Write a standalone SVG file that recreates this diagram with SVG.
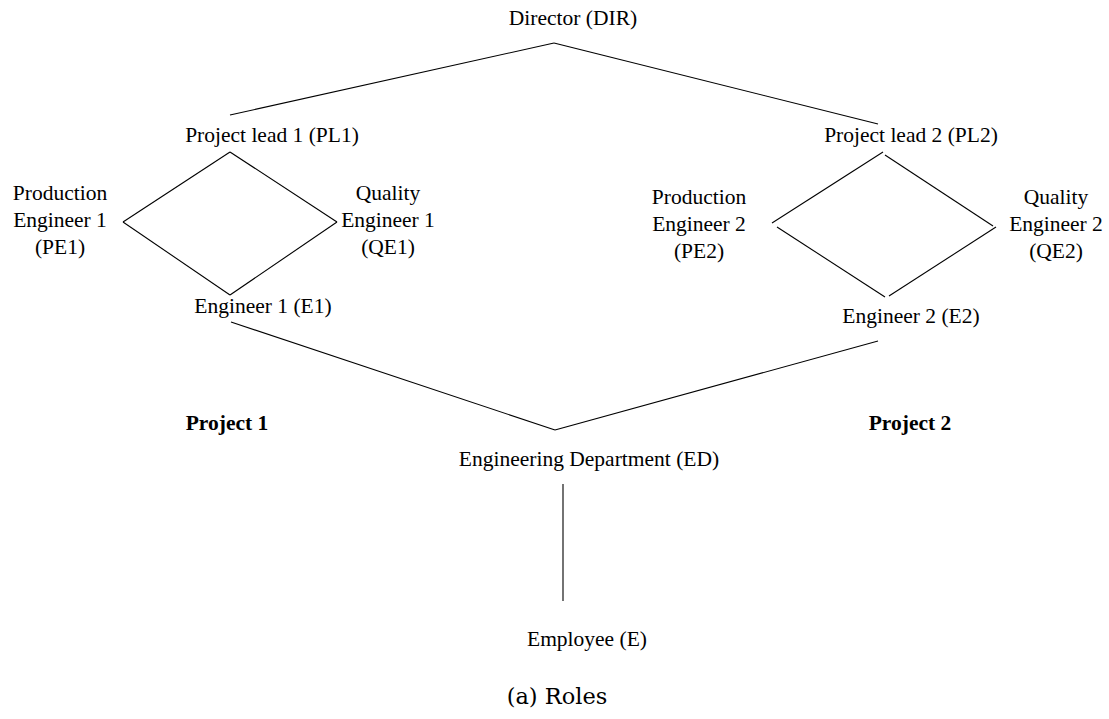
<svg xmlns="http://www.w3.org/2000/svg" width="1109" height="719" viewBox="0 0 1109 719">
<style>
text{font-family:"Liberation Serif","Times New Roman",serif;font-size:21.5px;fill:#000;text-anchor:middle}
.b{font-weight:bold}
.cap{font-family:"DejaVu Serif","Liberation Serif",serif;font-size:22.5px}
.c line{stroke:#000;stroke-width:1.1;fill:none}
</style>
<rect width="1109" height="719" fill="#fff"/>
<g class="c" id="connectors">
<line x1="554" y1="43" x2="230" y2="115"/>
<line x1="554" y1="43" x2="878" y2="124"/>
<line x1="230" y1="152" x2="123" y2="222"/>
<line x1="230" y1="152" x2="337" y2="222"/>
<line x1="123" y1="222" x2="230" y2="295"/>
<line x1="337" y1="222" x2="230" y2="295"/>
<line x1="883" y1="152" x2="772" y2="223"/>
<line x1="885" y1="155" x2="993" y2="226"/>
<line x1="777" y1="227" x2="885" y2="297"/>
<line x1="996" y1="227" x2="889" y2="296"/>
<line x1="231" y1="322" x2="555" y2="430"/>
<line x1="555" y1="430" x2="878" y2="341"/>
<line x1="563" y1="484" x2="563" y2="601"/>
</g>
<g id="DIR"><text x="573" y="25">Director (DIR)</text></g>
<g id="PL1"><text x="272" y="142">Project lead 1 (PL1)</text></g>
<g id="PL2"><text x="911" y="142">Project lead 2 (PL2)</text></g>
<g id="PE1"><text x="60" y="200">Production</text><text x="60" y="227">Engineer 1</text><text x="60" y="254">(PE1)</text></g>
<g id="QE1"><text x="388" y="200">Quality</text><text x="388" y="227">Engineer 1</text><text x="388" y="254">(QE1)</text></g>
<g id="E1"><text x="263" y="313">Engineer 1 (E1)</text></g>
<g id="PE2"><text x="699" y="204">Production</text><text x="699" y="231">Engineer 2</text><text x="699" y="258">(PE2)</text></g>
<g id="QE2"><text x="1056" y="204">Quality</text><text x="1056" y="231">Engineer 2</text><text x="1056" y="258">(QE2)</text></g>
<g id="E2"><text x="911" y="323">Engineer 2 (E2)</text></g>
<g id="P1"><text class="b" x="227" y="430">Project 1</text></g>
<g id="P2"><text class="b" x="910" y="430">Project 2</text></g>
<g id="ED"><text x="589" y="466">Engineering Department (ED)</text></g>
<g id="E"><text x="587" y="646">Employee (E)</text></g>
<text class="cap" x="557" y="704">(a) Roles</text>
</svg>
